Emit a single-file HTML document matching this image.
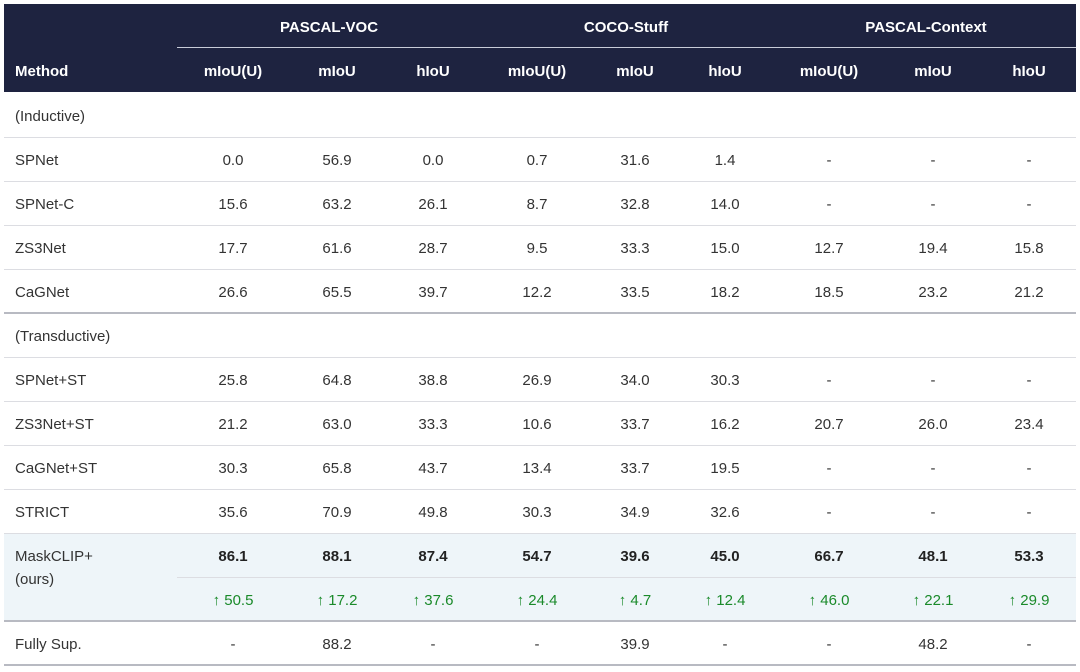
<!DOCTYPE html>
<html><head><meta charset="utf-8"><style>
body{margin:0;width:1080px;height:672px;background:#fff;position:relative;font-family:"Liberation Sans",Arial,sans-serif;overflow:hidden}
.a{position:absolute}
.h{background:#1e2340;left:4px;top:4px;width:1072px;height:88px}
.t{position:absolute;font-size:15px;color:#333;line-height:20px;white-space:nowrap}
.w{color:#fff;font-weight:bold}
.c{width:100px;text-align:center}
.b{font-weight:bold;color:#222}
.g{color:#1a8a2a}
.ln{position:absolute;left:4px;width:1072px;height:1px;background:#dcdde2}
.lt{position:absolute;left:4px;width:1072px;height:2px;background:#b8bac2}
</style></head><body>
<div class="a h"></div>
<div class="a" style="left:177px;top:47px;width:899px;height:1px;background:#c8ccd8"></div>
<div class="a" style="left:4px;top:533px;width:1072px;height:88px;background:#eef5f9"></div>
<div id="c"></div>
<script>
const X=[233,337,433,537,635,725,829,933,1029];
let h='';
function t(x,y,s,cls){h+=`<div class="t c ${cls||''}" style="left:${x-50}px;top:${y-8}px">${s}</div>`}
function L(x,y,s,cls){h+=`<div class="t ${cls||''}" style="left:${x}px;top:${y-8}px">${s}</div>`}
t(329,26,'PASCAL-VOC','w');t(626,26,'COCO-Stuff','w');t(926,26,'PASCAL-Context','w');
h+=`<style>.c.w{width:200px;margin-left:-50px}</style>`;
L(15,70,'Method','w');
['mIoU(U)','mIoU','hIoU','mIoU(U)','mIoU','hIoU','mIoU(U)','mIoU','hIoU'].forEach((s,i)=>h+=`<div class="t w" style="left:${X[i]-50}px;width:100px;text-align:center;top:62px">${s}</div>`);
const rows=[
['(Inductive)'],
['SPNet','0.0','56.9','0.0','0.7','31.6','1.4','-','-','-'],
['SPNet-C','15.6','63.2','26.1','8.7','32.8','14.0','-','-','-'],
['ZS3Net','17.7','61.6','28.7','9.5','33.3','15.0','12.7','19.4','15.8'],
['CaGNet','26.6','65.5','39.7','12.2','33.5','18.2','18.5','23.2','21.2'],
['(Transductive)'],
['SPNet+ST','25.8','64.8','38.8','26.9','34.0','30.3','-','-','-'],
['ZS3Net+ST','21.2','63.0','33.3','10.6','33.7','16.2','20.7','26.0','23.4'],
['CaGNet+ST','30.3','65.8','43.7','13.4','33.7','19.5','-','-','-'],
['STRICT','35.6','70.9','49.8','30.3','34.9','32.6','-','-','-']];
rows.forEach((r,i)=>{const y=115+i*44;L(15,y,r[0]);for(let j=1;j<r.length;j++)t(X[j-1],y,r[j]);});
L(15,555,'MaskCLIP+');L(15,578,'(ours)');
['86.1','88.1','87.4','54.7','39.6','45.0','66.7','48.1','53.3'].forEach((s,i)=>t(X[i],555,s,'b'));
['↑ 50.5','↑ 17.2','↑ 37.6','↑ 24.4','↑ 4.7','↑ 12.4','↑ 46.0','↑ 22.1','↑ 29.9'].forEach((s,i)=>t(X[i],599,s,'g'));
L(15,643,'Fully Sup.');
['-','88.2','-','-','39.9','-','-','48.2','-'].forEach((s,i)=>t(X[i],643,s));
[137,181,225,269,357,401,445,489,533].forEach(y=>h+=`<div class="ln" style="top:${y}px"></div>`);
h+=`<div class="ln" style="top:577px;left:177px;width:899px"></div>`;
[312,620,664].forEach(y=>h+=`<div class="lt" style="top:${y}px"></div>`);
document.getElementById('c').innerHTML=h;
</script>
</body></html>
